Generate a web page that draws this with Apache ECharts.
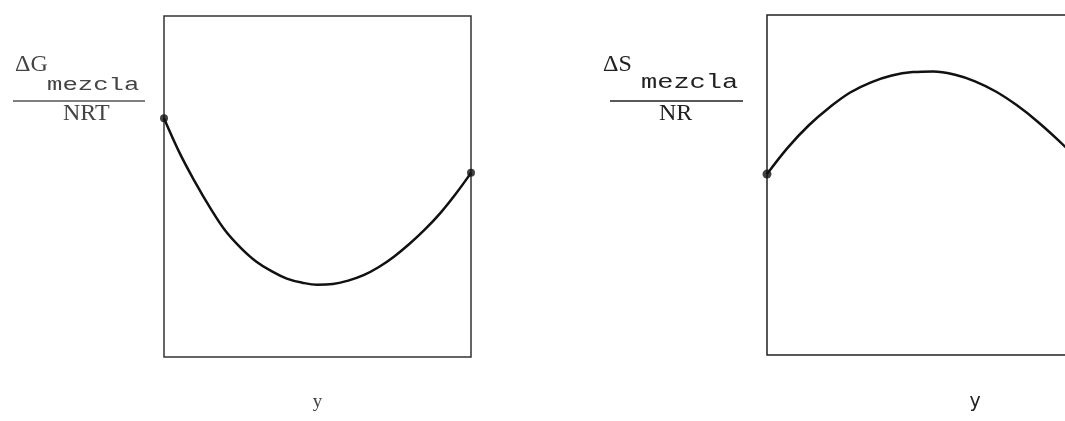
<!DOCTYPE html>
<html>
<head>
<meta charset="utf-8">
<script src="https://cdn.jsdelivr.net/npm/echarts@6/dist/echarts.min.js"></script>
<style>
html,body{margin:0;padding:0;background:#fff;}
#chart{width:1065px;height:421px;}
</style>
</head>
<body>
<div id="chart"></div>
<script>
// Left panel: ΔG_mezcla / NRT vs y
const gX = [0, 0.05, 0.1, 0.15, 0.2, 0.25, 0.3, 0.35, 0.4, 0.45, 0.5, 0.55, 0.6, 0.65, 0.7, 0.75, 0.8, 0.85, 0.9, 0.95, 1.0];
const gY = [0.70, 0.60, 0.515, 0.438, 0.37, 0.32, 0.28, 0.252, 0.23, 0.218, 0.212, 0.214, 0.224, 0.24, 0.264, 0.295, 0.332, 0.374, 0.422, 0.478, 0.54];
// Right panel: ΔS_mezcla / NR vs y (visible part)
const sX = [0, 0.05, 0.1, 0.15, 0.2, 0.25, 0.3, 0.35, 0.4, 0.45, 0.5, 0.55, 0.6, 0.65, 0.7, 0.76];
const sY = [0.532, 0.61, 0.675, 0.728, 0.772, 0.802, 0.822, 0.832, 0.834, 0.825, 0.805, 0.775, 0.735, 0.687, 0.632, 0.56];
const xName = 'y';

const gData = gX.map((x, i) => [x, gY[i]]);
const sData = sX.map((x, i) => [x, sY[i]]);

const chart = echarts.init(document.getElementById('chart'), null, {renderer: 'canvas'});

function xAx(idx, nameStyle, gap) {
  return {
    type: 'value', gridIndex: idx, min: 0, max: 1,
    axisLine: {show: false}, axisTick: {show: false}, axisLabel: {show: false}, splitLine: {show: false},
    name: xName, nameLocation: 'middle', nameGap: gap, nameTextStyle: nameStyle
  };
}
function yAx(idx) {
  return {
    type: 'value', gridIndex: idx, min: 0, max: 1,
    axisLine: {show: false}, axisTick: {show: false}, axisLabel: {show: false}, splitLine: {show: false}
  };
}

chart.setOption({
  animation: false,
  backgroundColor: '#fff',
  grid: [
    {left: 164, top: 16, width: 307, height: 341, show: true, borderColor: '#333', borderWidth: 1.5,
     backgroundColor: 'transparent', outerBoundsMode: 'none', containLabel: false},
    {left: 767, top: 15, width: 416, height: 340, show: true, borderColor: '#222', borderWidth: 1.5,
     backgroundColor: 'transparent', outerBoundsMode: 'none', containLabel: false}
  ],
  xAxis: [
    xAx(0, {fontFamily: 'Liberation Serif', fontSize: 19, color: '#444'}, 36),
    xAx(1, {fontFamily: 'DejaVu Sans', fontSize: 19, color: '#222'}, 38)
  ],
  yAxis: [yAx(0), yAx(1)],
  graphic: [
    {type: 'text', left: 15, top: 53, style: {text: 'ΔG', font: '24px "Liberation Serif"', fill: '#444'}},
    {type: 'text', x: 47, y: 75, scaleX: 1.35, style: {text: 'mezcla', font: '19px "Liberation Mono"', fill: '#444'}},
    {type: 'line', shape: {x1: 13, y1: 101, x2: 145, y2: 101}, style: {stroke: '#555', lineWidth: 1.5}},
    {type: 'text', left: 63, top: 102, style: {text: 'NRT', font: '24px "Liberation Serif"', fill: '#444'}},

    {type: 'text', left: 603, top: 53, style: {text: 'ΔS', font: '24px "Liberation Serif"', fill: '#222'}},
    {type: 'text', x: 641, y: 73, scaleX: 1.35, style: {text: 'mezcla', font: '20px "Liberation Mono"', fill: '#222'}},
    {type: 'line', shape: {x1: 610, y1: 101, x2: 743, y2: 101}, style: {stroke: '#222', lineWidth: 1.5}},
    {type: 'text', left: 659, top: 102, style: {text: 'NR', font: '24px "Liberation Serif"', fill: '#222'}}
  ],
  series: [
    {type: 'line', xAxisIndex: 0, yAxisIndex: 0, data: gData, smooth: 0.4, showSymbol: false,
     lineStyle: {color: '#111', width: 2.5}},
    {type: 'scatter', xAxisIndex: 0, yAxisIndex: 0, data: [gData[0], gData[gData.length - 1]],
     symbolSize: 8, itemStyle: {color: '#111'}},
    {type: 'line', xAxisIndex: 1, yAxisIndex: 1, data: sData, smooth: 0.4, showSymbol: false,
     lineStyle: {color: '#111', width: 2.5}},
    {type: 'scatter', xAxisIndex: 1, yAxisIndex: 1, data: [sData[0]],
     symbolSize: 9, itemStyle: {color: '#111'}}
  ]
});
</script>
</body>
</html>
